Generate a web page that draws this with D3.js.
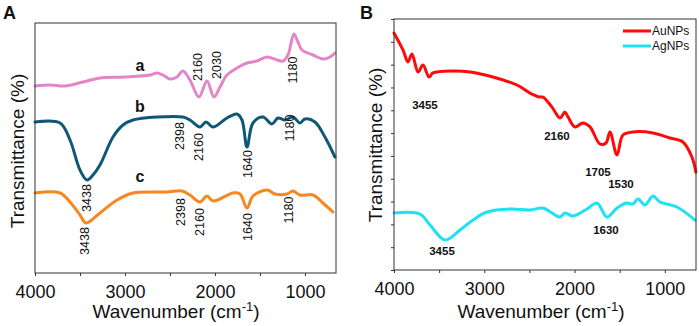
<!DOCTYPE html>
<html>
<head>
<meta charset="utf-8">
<script src="https://cdn.jsdelivr.net/npm/d3@7"></script>
<style>
  html, body { margin: 0; padding: 0; background: #fff; }
  svg { display: block; font-family: "Liberation Sans", Arial, sans-serif; }
</style>
</head>
<body>
<svg id="chart" width="699" height="326"></svg>
<script>
// FTIR spectra, [wavenumber, transmittance (arb.)]
const spectrumA = [[4000,74.8],[3833,75.2],[3667,74.8],[3467,76.4],[3278,78.0],[3000,78.4],[2722,79.2],[2644,80.0],[2578,79.2],[2500,77.6],[2422,78.4],[2356,80.8],[2278,77.2],[2178,70.4],[2089,76.8],[2011,70.4],[1944,74.4],[1867,79.2],[1756,82.0],[1644,84.0],[1533,84.8],[1422,86.4],[1311,85.2],[1244,84.8],[1189,87.2],[1122,95.6],[1078,92.4],[1033,89.2],[911,87.2],[800,85.6],[722,86.4],[667,88.0]];
const spectrumB = [[4000,60.4],[3722,60.0],[3611,53.2],[3500,41.2],[3422,37.2],[3356,39.2],[3278,43.2],[3133,54.4],[3022,59.2],[2911,61.2],[2644,62.4],[2356,62.4],[2278,61.2],[2167,58.4],[2100,60.4],[2022,58.4],[1867,62.0],[1756,63.6],[1700,61.2],[1644,50.4],[1578,60.0],[1467,62.4],[1367,59.6],[1300,62.0],[1222,61.2],[1133,62.4],[1056,60.0],[1000,61.6],[889,60.4],[778,54.4],[667,46.4]];
const spectrumC = [[4000,32.0],[3722,32.0],[3611,28.4],[3500,23.2],[3433,20.0],[3278,24.0],[3089,29.2],[2911,32.0],[2533,32.4],[2367,32.8],[2278,31.2],[2167,28.4],[2089,30.8],[2022,28.8],[1800,32.0],[1722,31.6],[1644,26.0],[1578,30.8],[1422,33.2],[1333,31.6],[1200,31.6],[1133,32.8],[1056,31.2],[911,31.2],[800,28.0],[689,24.4]];
const spectrumAu = [[4000,94.4],[3900,87.6],[3845,82.9],[3801,86.1],[3734,78.9],[3679,81.7],[3612,76.9],[3568,78.5],[3347,79.3],[3158,78.9],[2904,76.9],[2638,73.7],[2494,70.5],[2383,68.9],[2350,68.9],[2250,64.9],[2162,60.6],[2106,62.9],[2073,61.0],[1996,57.0],[1907,58.6],[1829,57.0],[1719,50.2],[1652,50.6],[1608,55.0],[1530,45.8],[1464,53.8],[1353,55.0],[1132,54.6],[944,52.6],[800,51.0],[700,45.0],[656,39.0]];
const spectrumAg = [[4000,22.7],[3712,22.3],[3601,17.9],[3435,12.0],[3269,15.9],[3125,19.9],[2970,23.1],[2715,24.3],[2494,23.9],[2350,24.7],[2250,22.7],[2162,21.1],[2106,22.7],[2018,21.5],[1863,24.3],[1752,26.7],[1641,21.1],[1530,24.7],[1420,26.7],[1353,26.3],[1298,28.3],[1220,25.9],[1132,29.5],[1055,27.1],[866,25.1],[667,19.9]];

// peak annotations: [text, wavenumber, value]
const peaksA = [['2160',2189,82.4],['2030',1978,83.2],['1180',1133,81.2],
  ['2398',2389,54.8],['2160',2178,50.4],['1640',1633,43.6],['1180',1167,58.0],['3438',3422,30.0],
  ['3438',3444,12.8],['2398',2378,24.4],['2160',2167,20.4],['1640',1633,18.4],['1180',1178,25.2]];
const tracesA = [['a',2833,83.2],['b',2833,66.8],['c',2833,38.8]];
const peaksB = [['3455',3657,65.7],['2160',2195,53.4],['1705',1741,39.0],['1530',1486,34.3],['1630',1652,15.9],['3455',3468,7.6]];
const legendB = ['AuNPs', 'AgNPs'];
const xTicks = [4000, 3000, 2000, 1000];

const svg = d3.select('#chart');

function drawPanel(opt) {
  const x = d3.scaleLinear().domain([4000, 655]).range([opt.left, opt.right]);
  const y = d3.scaleLinear().domain([0, 100]).range([opt.bottom, opt.top]);
  const g = svg.append('g');

  // curves
  const line = d3.line().x(d => x(d[0])).y(d => y(d[1])).curve(d3.curveCatmullRom.alpha(0.5));
  opt.series.forEach(s => {
    g.append('path').attr('d', line(s.data))
      .attr('fill', 'none').attr('stroke', s.color)
      .attr('stroke-width', 3).attr('stroke-linejoin', 'round').attr('stroke-linecap', 'round');
  });

  // frame
  g.append('rect').attr('x', opt.left).attr('y', opt.top)
    .attr('width', opt.right - opt.left).attr('height', opt.bottom - opt.top)
    .attr('fill', 'none').attr('stroke', '#333').attr('stroke-width', 1);

  // x axis
  const xAxis = d3.axisBottom(x).tickValues(d3.range(4000, 654, -500)).tickSize(3)
    .tickFormat(d => xTicks.includes(d) ? d : '');
  const ax = g.append('g').attr('transform', `translate(0,${opt.bottom})`).call(xAxis);
  ax.select('.domain').remove();
  ax.selectAll('line').attr('stroke', '#333');
  ax.selectAll('text').attr('font-size', 18).attr('fill', '#111').attr('dy', '1.05em');

  if (opt.yTicks) {
    const yAxis = d3.axisLeft(y).tickValues(d3.range(0, 12).map(i => i * 100 / 11)).tickSize(3).tickFormat('');
    const ay = g.append('g').attr('transform', `translate(${opt.left},0)`).call(yAxis);
    ay.select('.domain').remove();
    ay.selectAll('line').attr('stroke', '#333');
  }

  // axis titles
  const xt = g.append('text').attr('x', opt.xTitleX).attr('y', 318)
    .attr('text-anchor', 'middle').attr('font-size', 19).attr('fill', '#111')
    .text('Wavenumber (cm');
  xt.append('tspan').attr('font-size', 13).attr('dy', -7).text('-1');
  xt.append('tspan').attr('dy', 7).text(')');

  g.append('text')
    .attr('transform', `translate(${opt.yTitleX},${opt.yTitleY}) rotate(-90)`)
    .attr('text-anchor', 'middle').attr('dominant-baseline', 'central')
    .attr('font-size', 19).attr('fill', '#111').text('Transmittance (%)');

  g.append('text').attr('x', opt.tagX).attr('y', 19)
    .attr('font-size', 18).attr('font-weight', 'bold').attr('fill', '#111').text(opt.tag);

  return { g, x, y };
}

// Panel A
const pA = drawPanel({
  left: 35, right: 336, top: 23, bottom: 273, tag: 'A', tagX: 3,
  xTitleX: 176, yTitleX: 17, yTitleY: 151, yTicks: false,
  series: [
    { data: spectrumA, color: '#E485C9' },
    { data: spectrumB, color: '#0D5878' },
    { data: spectrumC, color: '#F7871F' }
  ]
});
peaksA.forEach(p => {
  pA.g.append('text')
    .attr('transform', `translate(${pA.x(p[1])},${pA.y(p[2])}) rotate(-90)`)
    .attr('text-anchor', 'middle').attr('dominant-baseline', 'central')
    .attr('font-size', 12.5).attr('fill', '#111').text(p[0]);
});
tracesA.forEach(p => {
  pA.g.append('text').attr('x', pA.x(p[1])).attr('y', pA.y(p[2]))
    .attr('text-anchor', 'middle').attr('dominant-baseline', 'central')
    .attr('font-size', 16).attr('font-weight', 'bold').attr('fill', '#111').text(p[0]);
});

// Panel B
const pB = drawPanel({
  left: 394, right: 696, top: 19, bottom: 270, tag: 'B', tagX: 360,
  xTitleX: 541, yTitleX: 375, yTitleY: 145, yTicks: true,
  series: [
    { data: spectrumAu, color: '#FF0A0A' },
    { data: spectrumAg, color: '#1CE2F4' }
  ]
});
peaksB.forEach(p => {
  pB.g.append('text').attr('x', pB.x(p[1])).attr('y', pB.y(p[2]))
    .attr('text-anchor', 'middle').attr('dominant-baseline', 'central')
    .attr('font-size', 11.5).attr('font-weight', 'bold').attr('fill', '#111').text(p[0]);
});
const legendColors = ['#FF0A0A', '#1CE2F4'];
legendB.forEach((name, i) => {
  const ly = 31 + i * 15;
  pB.g.append('line').attr('x1', 623).attr('x2', 651).attr('y1', ly).attr('y2', ly)
    .attr('stroke', legendColors[i]).attr('stroke-width', 3);
  pB.g.append('text').attr('x', 652).attr('y', ly).attr('dominant-baseline', 'central')
    .attr('font-size', 12).attr('fill', '#111').text(name);
});
</script>
</body>
</html>
